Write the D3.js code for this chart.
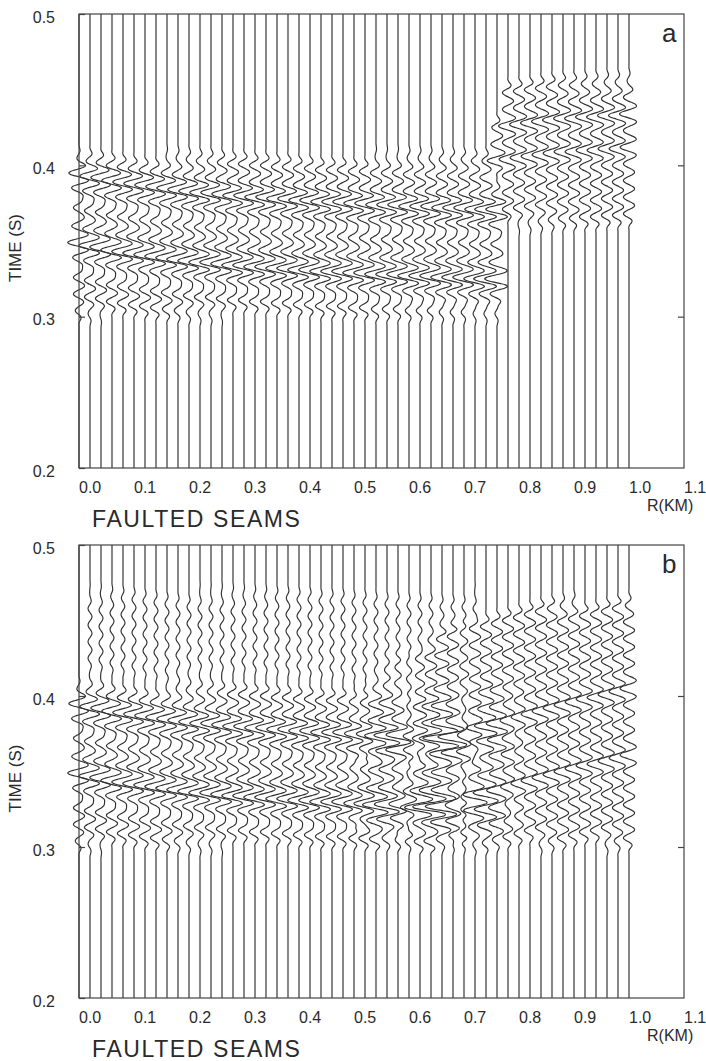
<!DOCTYPE html>
<html><head><meta charset="utf-8">
<script src="https://cdn.jsdelivr.net/npm/d3@7"></script>
<style>body{margin:0;background:#fff}svg{display:block}</style>
</head><body>
<svg id="c" width="706" height="1061"></svg>
<script>
// ---------------- data ----------------
const traceOffsetsKm = [0.00,0.02,0.04,0.06,0.08,0.10,0.12,0.14,0.16,0.18,0.20,0.22,0.24,0.26,0.28,0.30,0.32,0.34,0.36,0.38,0.40,0.42,0.44,0.46,0.48,0.50,0.52,0.54,0.56,0.58,0.60,0.62,0.64,0.66,0.68,0.70,0.72,0.74,0.76,0.78,0.80,0.82,0.84,0.86,0.88,0.90,0.92,0.94,0.96,0.98,1.00];
const xTickValues = [0.0,0.1,0.2,0.3,0.4,0.5,0.6,0.7,0.8,0.9,1.0,1.1];
const yTickValues = [0.2,0.3,0.4,0.5];
const yInnerTicks = [0.3,0.4];
const panelLetters = ["a","b"];
const panelTitles = ["FAULTED SEAMS","FAULTED SEAMS"];
const xAxisTitle = "R(KM)";
const yAxisTitle = "TIME (S)";

// wavelet shape, 1 ms samples, centre at index 11
const waveletSamples = [0,0.017,0.033,-0.025,-0.191,-0.411,-0.548,-0.463,-0.118,0.382,0.824,1,0.824,0.382,-0.118,-0.463,-0.548,-0.411,-0.191,-0.025,0.033,0.017,0];

// Panel a, left (unfaulted side) wave train: traces 0.00 .. 0.76
const aLeftStart = 0;
const aLeftShiftMs = [0,-2,-3,-5,-6,-7,-8,-9,-10,-11,-12,-13,-13,-14,-15,-15,-16,-16,-17,-17,-18,-18,-19,-19,-19,-20,-20,-21,-21,-21,-22,-22,-22,-23,-23,-23,-24,-24,-24];
const aLeftTopMs = [407,407,407,407,407,407,407,407,407,407,407,407,407,407,407,407,407,407,407,407,407,407,407,407,407,407,407,407,407,407,407,407,407,407,407,407,407,407,386];
const aLeftBottomMs = [300,300,300,300,300,300,300,300,300,300,300,300,300,300,300,300,300,300,300,300,300,300,300,300,300,300,300,300,300,300,300,300,300,300,300,300,300,300,300];
const aLeftGain = [1,1,1,1,1,1,1,1,1,1,1,1,1,1,1,1,1,1,1,1,1,1,1,1,1,1,1,1,1,1,1,1,1,1,1,1,1,1.1,1.1];
const aLeftPhaseMs = [449,438,427,416,405,395,385,372,360,349,339,326,315,304,293,282];
const aLeftPhaseAmp = [1,1,1,1,1,1.8,1.3,1,1.3,2,1.1,1,1,1,1,1];

// Panel a, right (faulted, shifted) wave train: traces 0.76 .. 1.00
const aRightStart = 38;
const aRightShiftMs = [-1,0,1,2,3,4,5,5,6,6,7,7,8];
const aRightTopMs = [428,458,458,458,458,458,458,458,458,458,458,458,458];
const aRightBottomMs = [396,360,360,360,360,360,360,360,360,360,360,360,360];
const aRightGain = [1.1,1,1,1,1,1,1,1,1,1,1,1,1];
const aRightPhaseMs = [470,459,448,437,426,415,404,393,382,371,360,349,338];
const aRightPhaseAmp = [1,1,1,1,1.7,1,1.6,1,1,1,1,1,1];

// Panel b, left wave train: traces 0.00 .. 0.80
const bLeftStart = 0;
const bLeftShiftMs = [0,-2,-3,-5,-6,-7,-8,-9,-10,-11,-12,-13,-13,-14,-15,-15,-16,-16,-17,-17,-18,-18,-19,-19,-19,-20,-20,-21,-21,-21,-22,-22,-22,-23,-23,-23,-24,-24,-24,-25,-25];
const bLeftTopMs = [407,407,407,407,407,407,407,407,407,407,407,407,407,407,407,407,407,407,407,407,407,407,407,407,407,407,407,407,407,407,407,407,407,407,407,407,407,407,407,407,407];
const bLeftBottomMs = [300,300,300,300,300,300,300,300,300,300,300,300,300,300,300,300,300,300,300,300,300,300,300,300,300,300,300,300,300,300,300,300,300,300,300,300,300,300,300,300,300];
const bLeftGain = [1,1,1,1,1,1,1,1,1,1,1,1,1,1,1,1,1,1,1,1,1,1,1,1,1,1,1,1,1,1,1,1,1,1,0.9,0.8,0.7,0.55,0.4,0.3,0.2];
const bLeftPhaseMs = [449,438,427,416,405,395,385,372,360,349,339,326,315,304,293,282];
const bLeftPhaseAmp = [1,1,1,1,1,1.8,1.3,1,1.3,2,1.1,1,1,1,1,1];

// Panel b, right wave train (rising phases): traces 0.50 .. 1.00
const bRightStart = 25;
const bRightShiftMs = [0,2,4,6,8,10,12,13,15,17,19,21,23,25,27,29,31,33,35,37,39,41,42,44,46,48];
const bRightTopMs = [405,410,415,420,425,430,434,438,442,446,450,453,456,458,460,462,462,463,463,463,464,464,464,464,464,464];
const bRightBottomMs = [300,300,300,300,300,300,300,300,300,300,300,300,300,300,300,300,300,300,300,300,300,300,300,300,300,300];
const bRightGain = [0.2,0.3,0.4,0.5,0.6,0.7,0.8,0.9,1,1,1,1,1,1,1,1,1,1,1,1,1,1,1,1,1,1];
const bRightPhaseMs = [236,247,258,269,280,291,302,313,324,335,346,357,368,379,390,401,412,423];
const bRightPhaseAmp = [1,1,1,1,1,1,1,1.6,1,1,1,1.6,1,1,1,1,1,1];

// Panel b, weak ripple above the main train: traces 0.02 .. 0.72
const bUpperStart = 1;
const bUpperShiftMs = [-2,-3,-5,-6,-7,-8,-9,-10,-11,-12,-13,-13,-14,-15,-15,-16,-16,-17,-17,-18,-18,-19,-19,-19,-20,-20,-21,-21,-21,-22,-22,-22,-23,-23,-23,-24];
const bUpperTopMs = [470,470,470,470,470,470,470,470,470,470,470,470,470,470,470,470,470,470,470,470,470,470,470,470,470,470,470,470,470,470,470,470,470,470,470,470];
const bUpperBottomMs = [412,412,412,412,412,412,412,412,412,412,412,412,412,412,412,412,412,412,412,412,412,412,412,412,412,412,412,412,412,412,412,412,412,412,412,412];
const bUpperGain = [0.35,0.35,0.35,0.35,0.35,0.35,0.35,0.35,0.35,0.35,0.35,0.35,0.35,0.35,0.35,0.35,0.35,0.35,0.35,0.35,0.35,0.35,0.35,0.35,0.35,0.35,0.35,0.35,0.35,0.35,0.35,0.35,0.35,0.35,0.35,0.35];
const bUpperPhaseMs = [493,482,471,460,449,438,427,416];
const bUpperPhaseAmp = [1,1,1,1,1,1,1,1];

// ---------------- drawing ----------------
const mk = (start, shift, top, bottom, gain, phases, amps) => ({start, shift, top, bottom, gain, phases, amps});
const panels = [
  {top:14, bottom:468, letter:panelLetters[0], title:panelTitles[0], blocks:[
    mk(aLeftStart,aLeftShiftMs,aLeftTopMs,aLeftBottomMs,aLeftGain,aLeftPhaseMs,aLeftPhaseAmp),
    mk(aRightStart,aRightShiftMs,aRightTopMs,aRightBottomMs,aRightGain,aRightPhaseMs,aRightPhaseAmp)]},
  {top:545, bottom:998, letter:panelLetters[1], title:panelTitles[1], blocks:[
    mk(bLeftStart,bLeftShiftMs,bLeftTopMs,bLeftBottomMs,bLeftGain,bLeftPhaseMs,bLeftPhaseAmp),
    mk(bRightStart,bRightShiftMs,bRightTopMs,bRightBottomMs,bRightGain,bRightPhaseMs,bRightPhaseAmp),
    mk(bUpperStart,bUpperShiftMs,bUpperTopMs,bUpperBottomMs,bUpperGain,bUpperPhaseMs,bUpperPhaseAmp)]}
];

const FONT = "'Liberation Sans', Arial, sans-serif";
const INK = "#2a2a2a";
const unitPx = 5.6;
const t0 = 200, t1 = 500;
const half = (waveletSamples.length - 1) / 2;
const ramp = 6;
const taper = (te, lo, hi) => Math.max(0, Math.min(1, (te - lo) / ramp)) * Math.max(0, Math.min(1, (hi - te) / ramp));

const svg = d3.select("#c");
const x = d3.scaleLinear().domain([0, 1.1]).range([79, 684]);

panels.forEach(p => {
  const y = d3.scaleLinear().domain([0.2, 0.5]).range([p.bottom, p.top]);
  const g = svg.append("g");
  const grid = d3.range(t0, t1 + 1);

  traceOffsetsKm.forEach((off, i) => {
    const vals = new Array(grid.length).fill(0);
    p.blocks.forEach(b => {
      const j = i - b.start;
      if (j < 0 || j >= b.shift.length) return;
      b.phases.forEach((base, k) => {
        const te = base + b.shift[j];
        const w = taper(te, b.bottom[j], b.top[j]) * b.amps[k] * b.gain[j];
        if (!w) return;
        waveletSamples.forEach((s, n) => {
          const idx = te + n - half - t0;
          if (idx >= 0 && idx < vals.length) vals[idx] += w * s;
        });
      });
    });
    const line = d3.line()
      .x((d, n) => x(off) - vals[n] * unitPx)
      .y(d => y(d / 1000))
      .curve(d3.curveCatmullRom);
    g.append("path").attr("d", line(grid))
      .attr("fill", "none").attr("stroke", "#303030").attr("stroke-width", 1.15);
  });

  // frame
  g.append("rect").attr("x", x(0)).attr("y", y(0.5))
    .attr("width", x(1.1) - x(0)).attr("height", y(0.2) - y(0.5))
    .attr("fill", "none").attr("stroke", "#444").attr("stroke-width", 1.2);

  // left axis
  const yl = g.append("g").attr("transform", `translate(${x(0)},0)`)
    .call(d3.axisLeft(y).tickValues(yTickValues).tickSize(-6).tickPadding(24).tickFormat(d3.format(".1f")));
  yl.select(".domain").remove();
  yl.selectAll("line").attr("stroke", "#444").attr("stroke-width", 1.2);
  yl.selectAll("text").attr("dy", "0.5em").attr("fill", INK)
    .style("font-family", FONT).style("font-size", "16px");

  // right axis ticks
  const yr = g.append("g").attr("transform", `translate(${x(1.1)},0)`)
    .call(d3.axisRight(y).tickValues(yInnerTicks).tickSize(-6).tickFormat(""));
  yr.select(".domain").remove();
  yr.selectAll("line").attr("stroke", "#444").attr("stroke-width", 1.2);

  // bottom axis labels
  const xa = g.append("g").attr("transform", `translate(0,${y(0.2)})`)
    .call(d3.axisBottom(x).tickValues(xTickValues).tickSize(0).tickFormat(d3.format(".1f")));
  xa.select(".domain").remove();
  xa.selectAll("text").attr("dy", null).attr("y", 25).attr("x", -0.5).attr("text-anchor", "start")
    .attr("fill", INK).style("font-family", FONT).style("font-size", "16px");

  // axis titles
  g.append("text").attr("x", 647).attr("y", y(0.2) + 43).text(xAxisTitle)
    .attr("fill", INK).style("font-family", FONT).style("font-size", "16px");
  g.append("text").attr("transform", `translate(21,${(y(0.2) + y(0.5)) / 2 + 7}) rotate(-90)`)
    .attr("text-anchor", "middle").text(yAxisTitle)
    .attr("fill", INK).style("font-family", FONT).style("font-size", "17px");

  // panel title and letter
  g.append("text").attr("x", 92).attr("y", y(0.2) + 59).text(p.title)
    .attr("fill", INK).style("font-family", FONT).style("font-size", "23px").style("letter-spacing", "1.6px");
  g.append("text").attr("x", 662).attr("y", y(0.5) + 28).text(p.letter)
    .attr("fill", INK).style("font-family", FONT).style("font-size", "26px");
});
</script>
</body></html>
